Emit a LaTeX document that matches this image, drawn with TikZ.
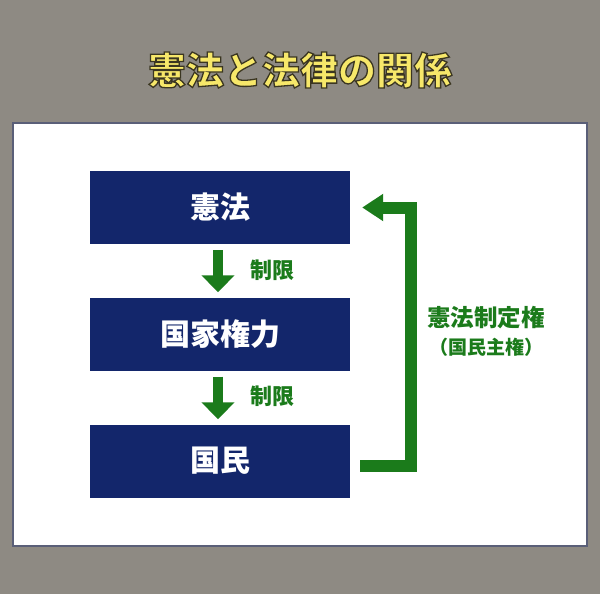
\documentclass[tikz,border=0pt]{standalone}
\usepackage{fontspec}
\newfontfamily\jpfont{Noto Sans CJK JP}
\usetikzlibrary{arrows.meta}
\definecolor{bggray}{HTML}{8E8A83}
\definecolor{navy}{HTML}{13266B}
\definecolor{leaf}{HTML}{1B7B1B}
\definecolor{titleyellow}{HTML}{F7E86A}
\definecolor{panelline}{HTML}{5A5F78}
\newcommand{\edged}[1]{\special{pdf:literal direct 2 Tr 1.3 w 0.23 0.21 0.13 RG}#1\special{pdf:literal direct 0 Tr}}
\tikzset{
  box/.style={fill=navy, text=white, minimum width=260pt, minimum height=73pt,
    inner sep=0pt, font=\jpfont\bfseries\fontsize{30}{32}\selectfont},
  lbl/.style={text=leaf, inner sep=0pt, font=\jpfont\bfseries\fontsize{22}{24}\selectfont},
  downarrow/.style={draw=leaf, line width=10pt, -{Triangle[width=32pt,length=17pt]},
    shorten <=6pt, shorten >=5pt},
}
\begin{document}
\begin{tikzpicture}[x=1pt, y=-1pt]
    \path[use as bounding box, fill=bggray] (0,0) rectangle (600,594);
    \draw[fill=white, draw=panelline, line width=1.5pt] (13,123) rectangle (587,546);

    \node (title) [text=titleyellow, font=\jpfont\bfseries\fontsize{38}{40}\selectfont]
      at (300,70) {\edged{憲法と法律の関係}};

    \node (kenpo) [box] at (220,207.5) {憲法};
    \node (kokka) [box] at (220,334)   {国家権力};
    \node (kokumin) [box] at (220,461) {国民};

    \draw[downarrow] ([xshift=-2pt]kenpo.south) -- ([xshift=-2pt]kokka.north);
    \draw[downarrow] ([xshift=-2pt]kokka.south) -- ([xshift=-2pt]kokumin.north);
    \node (seigen1) [lbl] at (272,270) {制限};
    \node (seigen2) [lbl] at (272,396) {制限};

    % feedback from the people
    \draw[draw=leaf, line width=12pt, -{Triangle[width=26pt,length=21pt]}]
      ([xshift=10pt,yshift=-5pt]kokumin.east) -| ([xshift=61pt]kenpo.east) -- ([xshift=12pt]kenpo.east);
    \node (seitei) [lbl, font=\jpfont\bfseries\fontsize{23.5}{25}\selectfont] at (486,318) {憲法制定権};
    \node (shuken) [lbl, font=\jpfont\bfseries\fontsize{19}{21}\selectfont] at (486,347) {（国民主権）};
\end{tikzpicture}
\end{document}
